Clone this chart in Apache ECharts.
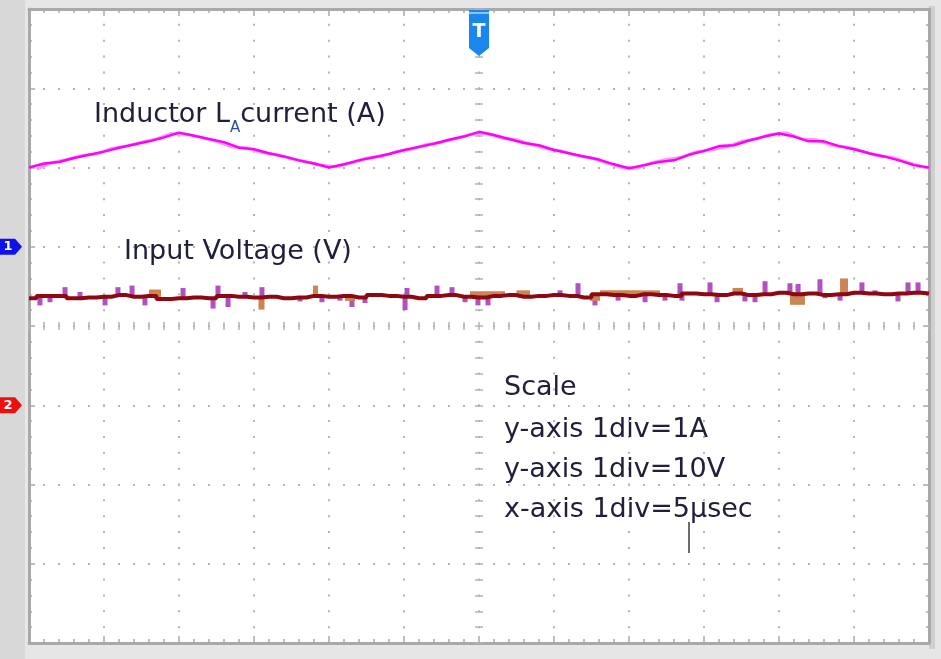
<!DOCTYPE html>
<html><head><meta charset="utf-8">
<script src="https://cdn.jsdelivr.net/npm/echarts@6/dist/echarts.min.js"></script>
<style>html,body{margin:0;padding:0;background:#e6e6e6;}#c{width:941px;height:659px;}</style>
</head><body><div id="c"></div>
<script>
// ---- data (time in µs, trigger at 0) ----
const timeUs = [-30,-29,-28,-27,-26,-25,-24,-23,-22,-21,-20,-19,-18,-17,-16,-15,-14,-13,-12,-11,-10,
  -9,-8,-7,-6,-5,-4,-3,-2,-1,0,1,2,3,4,5,6,7,8,9,10,11,12,13,14,15,16,17,18,19,20,
  21,22,23,24,25,26,27,28,29,30];
// Inductor LA current (A), channel 1
const currentA = [1.00,1.05,1.07,1.12,1.16,1.20,1.25,1.29,1.33,1.38,1.44,
  1.40,1.36,1.32,1.25,1.23,1.18,1.14,1.09,1.05,1.00,
  1.04,1.09,1.13,1.17,1.22,1.26,1.30,1.35,1.39,1.45,
  1.41,1.36,1.31,1.28,1.22,1.18,1.14,1.10,1.04,0.99,
  1.03,1.07,1.09,1.16,1.21,1.27,1.28,1.34,1.39,1.43,
  1.39,1.33,1.33,1.27,1.23,1.18,1.14,1.09,1.03,1.00];
const currentJitterTimeUs = [-29.5,-28.5,-27.5,-26.5,-25.5,-24.5,-23.5,-22.5,-21.5,-20.5,
  -19.5,-18.5,-17.5,-16.5,-15.5,-14.5,-13.5,-12.5,-11.5,-10.5,
  -9.5,-8.5,-7.5,-6.5,-5.5,-4.5,-3.5,-2.5,-1.5,-0.5,
  0.5,1.5,2.5,3.5,4.5,5.5,6.5,7.5,8.5,9.5,
  10.5,11.5,12.5,13.5,14.5,15.5,16.5,17.5,18.5,19.5,
  20.5,21.5,22.5,23.5,24.5,25.5,26.5,27.5,28.5,29.5];
const currentJitterA = [0.98,1.06,1.10,1.15,1.17,1.24,1.27,1.32,1.36,1.43,
  1.42,1.38,1.33,1.26,1.25,1.19,1.16,1.11,1.07,1.03,
  1.01,1.06,1.12,1.14,1.20,1.23,1.29,1.32,1.37,1.42,
  1.43,1.37,1.35,1.29,1.24,1.21,1.15,1.12,1.06,1.00,
  0.99,1.06,1.10,1.13,1.20,1.22,1.26,1.33,1.36,1.42,
  1.44,1.36,1.35,1.28,1.26,1.21,1.15,1.13,1.07,1.01];
// Input voltage (V), channel 2
const voltageV = [13.5,13.8,13.8,13.5,13.6,13.7,13.9,13.7,13.8,13.4,13.5,
  13.6,13.5,13.8,13.7,13.6,13.7,13.5,13.6,13.8,13.7,
  13.8,13.6,13.9,13.8,13.7,13.5,13.8,13.9,13.7,13.6,
  13.8,13.9,13.7,13.8,13.9,13.8,13.6,14.0,13.9,13.8,
  14.0,13.9,13.8,14.1,14.0,13.9,14.1,13.9,14.0,14.2,
  14.0,14.1,13.9,14.0,14.2,14.1,14.0,14.1,14.2,14.1];
// short noise spikes on the voltage trace: time (µs) and extreme value (V)
const spikeTimeUs = [-29.27,-28.6,-27.6,-26.6,-24.93,-24.07,-23.13,-22.27,-19.73,-17.73,-17.4,-16.73,-15.6,-14.47,
  -11.93,-10.47,-9.27,-8.47,-7.6,-4.93,-4.8,-2.8,-1.8,-0.93,-0.07,0.6,5.4,6.6,7.73,9.27,
  11.07,12.4,13.4,13.53,15.4,15.87,17.73,18.4,19.07,20.73,21.27,22.73,23.07,24.07,25.53,26.4,27.93,28.6,29.27];
const spikeV = [12.6,13.0,14.9,14.3,12.6,14.9,15.1,12.6,14.8,12.2,15.1,12.4,14.3,14.9,
  13.1,13.0,13.2,12.4,12.9,12.0,14.8,15.1,14.9,13.0,12.6,12.6,14.5,15.4,12.6,13.2,
  13.0,13.2,15.4,13.2,15.5,13.0,13.1,13.0,15.65,15.4,15.3,15.9,13.5,13.2,15.5,14.5,13.1,15.5,15.5];
// wider drift blobs on the voltage trace: start, end (µs) and level (V)
const blobStartUs = [-14.7,-11.07,-8.93,-0.6,7.4,8.07,10.73,20.73,24.07,-22.0,2.5,16.9];
const blobEndUs   = [-14.3,-10.73,-8.27,1.73,8.07,10.73,12.07,21.73,24.6,-21.2,3.4,17.6];
const blobV       = [12.2,15.1,13.3,14.4,13.3,14.5,14.5,12.8,16.0,14.6,14.5,14.8];
// axis ranges (divisions): x 1div = 5 µs, ch1 1div = 1 A, ch2 1div = 10 V
const timeRange = [-30, 30];
const currentRange = [-5, 3];
const voltageRange = [-30, 50];

const zip = (xs, ys) => xs.map((x, i) => [x, ys[i]]);
function baseAt(t) { // main trace level at time t
  let i = Math.round(t - timeUs[0]);
  i = Math.max(0, Math.min(voltageV.length - 1, i));
  return voltageV[i];
}

const chart = echarts.init(document.getElementById('c'), null, {renderer: 'canvas'});
const borderColor = '#a9a9a9';
const dotColor = '#b4b4b4';
function borderX(pos) {
  return {type: 'value', position: pos, min: timeRange[0], max: timeRange[1], interval: 5,
    axisLine: {show: true, onZero: false, lineStyle: {color: borderColor, width: 3}},
    axisTick: {show: true, inside: true, length: 7, lineStyle: {color: borderColor, width: 1.5}},
    minorTick: {show: true, splitNumber: 5, length: 4, lineStyle: {color: borderColor, width: 1.5}},
    axisLabel: {show: false}, splitLine: {show: false}};
}
function borderY(pos, range, interval) {
  return {type: 'value', position: pos, min: range[0], max: range[1], interval: interval,
    axisLine: {show: true, onZero: false, lineStyle: {color: borderColor, width: 3}},
    axisTick: {show: true, inside: true, length: 6, lineStyle: {color: borderColor, width: 1.5}},
    minorTick: {show: true, splitNumber: 5, length: 3, lineStyle: {color: borderColor, width: 1.5}},
    axisLabel: {show: false}, splitLine: {show: false}};
}
function centerX(inside) {
  return {type: 'value', position: 'bottom', offset: -317, min: timeRange[0], max: timeRange[1], interval: 5,
    axisLine: {show: false, onZero: false},
    axisTick: {show: true, inside: inside, length: 4, lineStyle: {color: dotColor, width: 1.5}},
    minorTick: {show: true, splitNumber: 5, length: 4, lineStyle: {color: dotColor, width: 1.5}},
    axisLabel: {show: false}, splitLine: {show: false}};
}
function centerY(inside) {
  return {type: 'value', position: 'left', offset: -450, min: -4, max: 4, interval: 1,
    axisLine: {show: false, onZero: false},
    axisTick: {show: true, inside: inside, length: 4, lineStyle: {color: dotColor, width: 1.5}},
    minorTick: {show: true, splitNumber: 5, length: 4, lineStyle: {color: dotColor, width: 1.5}},
    axisLabel: {show: false}, splitLine: {show: false}};
}
const x0 = borderX('bottom');
x0.splitLine = {show: true, lineStyle: {color: dotColor, width: 2, type: [2, 13.85], dashOffset: 1}};
const y0 = borderY('left', currentRange, 1);
y0.splitLine = {show: true, lineStyle: {color: dotColor, width: 2, type: [2, 13], dashOffset: 1}};

const lineBase = {type: 'line', showSymbol: false, symbol: 'none', silent: true, animation: false,
  emphasis: {disabled: true}};

chart.setOption({
  animation: false,
  backgroundColor: '#e6e6e6',
  grid: {left: 29, right: 12, top: 9, bottom: 16, containLabel: false, outerBoundsMode: 'none',
    show: true, backgroundColor: '#ffffff', borderWidth: 0},
  xAxis: [x0, borderX('top'), centerX(true), centerX(false)],
  yAxis: [y0, borderY('right', voltageRange, 10), centerY(true), centerY(false)],
  series: [
    {type: 'custom', name: 'ch2 spikes', xAxisIndex: 0, yAxisIndex: 1, silent: true, z: 3,
      data: zip(spikeTimeUs, spikeV), encode: {x: 0, y: 1},
      renderItem: function (params, api) {
        const t = api.value(0), peak = api.value(1);
        const a = api.coord([t, peak]), b = api.coord([t, baseAt(t)]);
        return {type: 'rect', shape: {x: a[0] - 2.5, y: Math.min(a[1], b[1]), width: 5, height: Math.abs(a[1] - b[1])},
          style: {fill: '#b052bd'}};
      }},
    {type: 'custom', name: 'ch2 drift', xAxisIndex: 0, yAxisIndex: 1, silent: true, z: 4,
      data: blobStartUs.map((s, i) => [s, blobEndUs[i], blobV[i]]), encode: {x: [0, 1], y: 2},
      renderItem: function (params, api) {
        const s = api.value(0), e = api.value(1), v = api.value(2);
        const a = api.coord([s, v]), b = api.coord([e, baseAt((s + e) / 2)]);
        return {type: 'rect', shape: {x: a[0], y: Math.min(a[1], b[1]), width: b[0] - a[0], height: Math.abs(a[1] - b[1]) + 1},
          style: {fill: '#c98552'}};
      }},
    Object.assign({}, lineBase, {name: 'Input Voltage (V)', xAxisIndex: 0, yAxisIndex: 1, step: 'middle',
      data: zip(timeUs, voltageV), lineStyle: {color: '#8e0812', width: 4}, z: 5}),
    Object.assign({}, lineBase, {name: 'ch1 jitter', xAxisIndex: 0, yAxisIndex: 0,
      data: zip(currentJitterTimeUs, currentJitterA), lineStyle: {color: '#f59cef', width: 3}, z: 6}),
    Object.assign({}, lineBase, {name: 'Inductor LA current (A)', xAxisIndex: 0, yAxisIndex: 0,
      data: zip(timeUs, currentA), lineStyle: {color: '#ff00ff', width: 2.5}, z: 7})
  ]
});

// reference markers positioned through the axes
const ch1Y = chart.convertToPixel({yAxisIndex: 0}, 0);
const ch2Y = chart.convertToPixel({yAxisIndex: 1}, 0);
const trigX = chart.convertToPixel({xAxisIndex: 0}, 0);
const topY = chart.convertToPixel({yAxisIndex: 0}, currentRange[1]);
function chMarker(y, color, label) {
  return [
    {type: 'polygon', shape: {points: [[0, y - 8], [15, y - 8], [22, y], [15, y + 8], [0, y + 8]]},
      style: {fill: color}, z: 50},
    {type: 'text', x: 8, y: y, style: {text: label, fill: '#ffffff', font: 'bold 13px "DejaVu Sans"',
      align: 'center', verticalAlign: 'middle'}, z: 51}
  ];
}
const textFont = '"DejaVu Sans", sans-serif';
const textFill = '#20203a';
const fs = 27;
chart.setOption({
  graphic: [
    {type: 'rect', shape: {x: 0, y: 0, width: 25, height: 659}, style: {fill: '#d8d8d8'}, z: -10},
    {type: 'rect', shape: {x: 929, y: 6, width: 6, height: 643}, style: {fill: '#cfcfcf'}, z: -10},
    ...chMarker(ch1Y, '#1010e8', '1'),
    ...chMarker(ch2Y, '#ee1010', '2'),
    {type: 'polygon', shape: {points: [[trigX - 10, topY + 1], [trigX + 10, topY + 1], [trigX + 10, topY + 39],
      [trigX, topY + 47], [trigX - 10, topY + 39]]}, style: {fill: '#1a86ee'}, z: 50},
    {type: 'line', shape: {x1: trigX - 10, y1: topY + 4, x2: trigX + 10, y2: topY + 4},
      style: {stroke: '#ffffff', lineWidth: 1}, z: 51},
    {type: 'text', x: trigX, y: topY + 23, style: {text: 'T', fill: '#ffffff', font: 'bold 19px "DejaVu Sans"',
      align: 'center', verticalAlign: 'middle'}, z: 52},
    {type: 'text', x: 94, y: 115, z: 60, style: {
      text: '{a|Inductor L}{s|A}{a|current (A)}', verticalAlign: 'middle', align: 'left',
      rich: {a: {fontFamily: textFont, fontSize: fs, fill: textFill, color: textFill, lineHeight: 42, verticalAlign: 'middle'},
             s: {fontFamily: textFont, fontSize: 15, fill: '#3050a0', color: '#3050a0', lineHeight: 16, verticalAlign: 'bottom'}}}},
    {type: 'text', x: 124, y: 252, z: 60, style: {text: 'Input Voltage (V)', fill: textFill,
      font: fs + 'px ' + textFont, verticalAlign: 'middle'}},
    {type: 'text', x: 504, y: 388, z: 60, style: {text: 'Scale', fill: textFill, font: fs + 'px ' + textFont, verticalAlign: 'middle'}},
    {type: 'text', x: 504, y: 430, z: 60, style: {text: 'y-axis 1div=1A', fill: textFill, font: fs + 'px ' + textFont, verticalAlign: 'middle'}},
    {type: 'text', x: 504, y: 470, z: 60, style: {text: 'y-axis 1div=10V', fill: textFill, font: fs + 'px ' + textFont, verticalAlign: 'middle'}},
    {type: 'text', x: 504, y: 510, z: 60, style: {text: 'x-axis 1div=5\u00b5sec', fill: textFill, font: fs + 'px ' + textFont, verticalAlign: 'middle'}},
    {type: 'line', shape: {x1: 689, y1: 522, x2: 689, y2: 553}, style: {stroke: '#6c6c6c', lineWidth: 2}, z: 60}
  ]
});
</script></body></html>
